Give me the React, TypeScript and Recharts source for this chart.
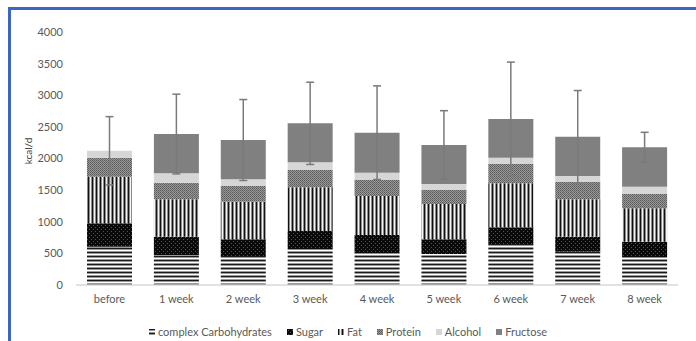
import { Bar, BarChart, ErrorBar, Label, XAxis, YAxis } from "recharts"

const weeks = ["before", "1 week", "2 week", "3 week", "4 week", "5 week", "6 week", "7 week", "8 week"]

// kcal/d per component
const complexCarbs = [605, 474, 458, 564, 501, 490, 648, 527, 438]
const sugar = [370, 290, 264, 290, 289, 232, 264, 237, 247]
const fat = [737, 591, 595, 691, 617, 559, 696, 591, 527]
const protein = [300, 262, 248, 273, 253, 221, 305, 278, 227]
const alcohol = [110, 149, 106, 122, 116, 95, 100, 90, 116]
const fructose = [0, 621, 621, 616, 632, 616, 611, 622, 622]
const totalSd = [540, 630, 640, 650, 740, 543, 900, 730, 237]

const yTicks = [0, 500, 1000, 1500, 2000, 2500, 3000, 3500, 4000]

const series = [
  { key: "carbs", name: "complex Carbohydrates", fill: "url(#patCarbs)" },
  { key: "sugar", name: "Sugar", fill: "url(#patSugar)" },
  { key: "fat", name: "Fat", fill: "url(#patFat)" },
  { key: "protein", name: "Protein", fill: "url(#patProtein)" },
  { key: "alcohol", name: "Alcohol", fill: "#d6d6d6" },
  { key: "fructose", name: "Fructose", fill: "#808080" },
]

// error bar sits on whichever segment is the top of the stack
const data = weeks.map((w, i) => ({
  week: w,
  carbs: complexCarbs[i],
  sugar: sugar[i],
  fat: fat[i],
  protein: protein[i],
  alcohol: alcohol[i],
  fructose: fructose[i],
  sdAlcohol: fructose[i] === 0 ? totalSd[i] : undefined,
  sdFructose: fructose[i] === 0 ? undefined : totalSd[i],
}))

const textColor = "#595959"
const font = "Lato, 'Noto Sans', sans-serif"

export default function App() {
  return (
    <div
      style={{
        position: "absolute",
        left: 0,
        top: 0,
        width: 696,
        height: 341,
        background: "#fff",
        overflow: "hidden",
        fontFamily: font,
      }}
    >
      {/* blue frame, only top + left visible */}
      <div
        style={{
          position: "absolute",
          left: 8,
          top: 7,
          right: -10,
          bottom: -10,
          borderTop: "3px solid #3b66c2",
          borderLeft: "3px solid #3b66c2",
        }}
      />
      <div style={{ position: "absolute", left: 0, top: 0 }}>
        <BarChart
          width={696}
          height={341}
          data={data}
          margin={{ top: 32, right: 18, bottom: 26, left: 20 }}
          barSize={45}
        >
          <defs>
            <pattern id="patCarbs" width="4" height="4" patternUnits="userSpaceOnUse">
              <rect width="4" height="4" fill="#9a9a9a" />
              <rect y="0" width="4" height="1" fill="#1a1a1a" />
              <rect y="2" width="4" height="1" fill="#ffffff" />
            </pattern>
            <pattern id="patSugar" width="4" height="4" patternUnits="userSpaceOnUse">
              <rect width="4" height="4" fill="#0a0a0a" />
              <rect x="1" y="1" width="1" height="1" fill="#555" />
              <rect x="3" y="3" width="1" height="1" fill="#555" />
            </pattern>
            <pattern id="patFat" width="4" height="4" patternUnits="userSpaceOnUse">
              <rect width="4" height="4" fill="#8c8c8c" />
              <rect x="0" width="1" height="4" fill="#111" />
              <rect x="2" width="1" height="4" fill="#f4f4f4" />
            </pattern>
            <pattern id="patProtein" width="2" height="2" patternUnits="userSpaceOnUse">
              <rect width="2" height="2" fill="#999" />
              <rect width="1" height="1" fill="#5a5a5a" />
              <rect x="1" y="1" width="1" height="1" fill="#6a6a6a" />
            </pattern>
          </defs>
          <XAxis
            dataKey="week"
            tick={{ fill: textColor, fontSize: 11, fontFamily: font }}
            tickLine={false}
            axisLine={{ stroke: "#d9d9d9", strokeWidth: 1.5 }}
            tickMargin={4}
          />
          <YAxis
            domain={[0, 4000]}
            ticks={yTicks}
            width={56}
            tick={{ fill: textColor, fontSize: 11, fontFamily: font }}
            tickLine={false}
            axisLine={false}
            tickMargin={7}
          >
            <Label
              content={() => (
                <text
                  transform="translate(28,151) rotate(-90)"
                  textAnchor="middle"
                  dominantBaseline="central"
                  fill="#404040"
                  fontSize={10}
                  fontFamily={font}
                >
                  kcal/d
                </text>
              )}
            />
          </YAxis>
          {series.map((s) => (
            <Bar key={s.key} dataKey={s.key} name={s.name} stackId="a" fill={s.fill} isAnimationActive={false}>
              {s.key === "alcohol" && (
                <ErrorBar dataKey="sdAlcohol" width={4} stroke="#7a7a7a" strokeWidth={1.5} direction="y" />
              )}
              {s.key === "fructose" && (
                <ErrorBar dataKey="sdFructose" width={4} stroke="#7a7a7a" strokeWidth={1.5} direction="y" />
              )}
            </Bar>
          ))}
        </BarChart>
      </div>
      {/* legend */}
      <div
        style={{
          position: "absolute",
          left: 0,
          top: 325,
          width: 696,
          display: "flex",
          justifyContent: "center",
          gap: 15,
          fontSize: 11,
          color: textColor,
          lineHeight: "14px",
        }}
      >
        {series.map((s) => (
          <div key={s.key} style={{ display: "flex", alignItems: "center" }}>
            <svg width={6} height={6} style={{ marginRight: 3 }}>
              <rect width={6} height={6} fill={s.fill} />
            </svg>
            <span>{s.name}</span>
          </div>
        ))}
      </div>
    </div>
  )
}
